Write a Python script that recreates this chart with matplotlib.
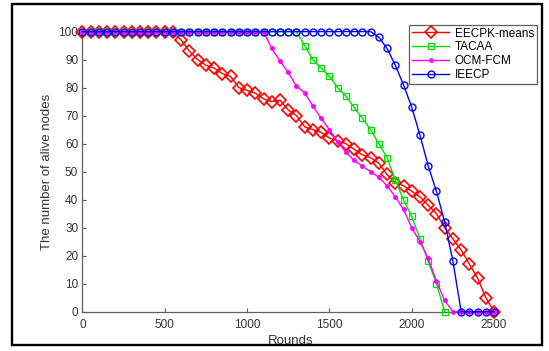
import matplotlib
matplotlib.use("Agg")
import matplotlib.pyplot as plt
from matplotlib.patches import Rectangle
import numpy as np

plt.rcParams['font.family'] = ['Liberation Sans', 'DejaVu Sans']

# rounds sampled every 50
rounds = np.arange(0, 2550, 50)

eecpk = [100] * 12 + [97, 93, 90, 88, 87, 85, 84, 80, 79, 78,
                      76, 75, 75.5, 72, 70, 66, 65, 64, 62, 61,
                      60, 58, 56, 55, 53, 49, 46, 45, 43, 41,
                      38, 35, 30, 26, 22, 17, 12, 5, 0]
tacaa = [100] * 27 + [95, 90, 87, 84, 80, 77, 73, 69, 65, 60,
                      55, 47, 40, 34, 26, 18, 10, 0]
ocm_fcm = [100] * 23 + [94, 89.5, 85.4, 80.5, 78.2, 73.4, 69, 65, 60.6, 57,
                        54, 52, 50, 48, 45, 41, 36.5, 30, 25, 19,
                        11, 4, 0, 0, 0, 0, 0, 0]
ieecp = [100] * 36 + [98, 94, 88, 81, 73, 63, 52, 43, 32, 18,
                      0, 0, 0, 0, 0]

labels = ["EECPK-means", "TACAA", "OCM-FCM", "IEECP"]

fig = plt.figure(figsize=(5.49, 3.51), dpi=100)
ax = fig.add_axes([0.150, 0.112, 0.759, 0.798])

ax.plot(rounds[:len(eecpk)], eecpk, color='#ff0000', marker='D', ms=6,
        mfc='none', mew=1.2, lw=1.0, label=labels[0], clip_on=False, zorder=3)
ax.plot(rounds[:len(tacaa)], tacaa, color='#00e000', marker='s', ms=4.5,
        mfc='none', mew=0.9, lw=1.0, label=labels[1], clip_on=False, zorder=4)
ax.plot(rounds[:len(ocm_fcm)], ocm_fcm, color='#ff00ff', marker='.', ms=5,
        lw=1.0, label=labels[2], clip_on=False, zorder=5)
ax.plot(rounds[:len(ieecp)], ieecp, color='#0000ff', marker='o', ms=5,
        mfc='none', mew=1.0, lw=1.0, label=labels[3], clip_on=False, zorder=6)

ax.set_xlim(0, 2530)
ax.set_ylim(0, 100)
ax.set_xticks(np.arange(0, 2501, 500))
ax.set_yticks(np.arange(0, 101, 10))

for s in ['top', 'right']:
    ax.spines[s].set_visible(False)
for s in ['left', 'bottom']:
    ax.spines[s].set_color('#606060')
    ax.spines[s].set_linewidth(0.9)

ax.tick_params(axis='both', direction='in', length=3, width=0.8,
               colors='#606060', labelcolor='#333333', labelsize=8.5)
ax.tick_params(axis='x', pad=5.5)
ax.tick_params(axis='y', pad=3)

ax.set_xlabel("Rounds", fontsize=9.5, color='#333333', labelpad=2.5)
ax.set_ylabel("The number of alive nodes", fontsize=9.5, color='#333333', labelpad=4)

leg = ax.legend(loc='upper right', bbox_to_anchor=(0.978, 0.93),
                bbox_transform=fig.transFigure, borderaxespad=0,
                fontsize=8.5, fancybox=False, framealpha=1,
                edgecolor='#606060', handlelength=3.2, handletextpad=0.45,
                labelspacing=0.15, borderpad=0.25, numpoints=1)
leg.get_frame().set_linewidth(0.9)

# black frame round the whole picture
fig.patches.append(Rectangle((0.022, 0.016), 0.966, 0.972, transform=fig.transFigure,
                             fill=False, edgecolor='black', linewidth=1.7))

fig.savefig("out.png", dpi=100)
